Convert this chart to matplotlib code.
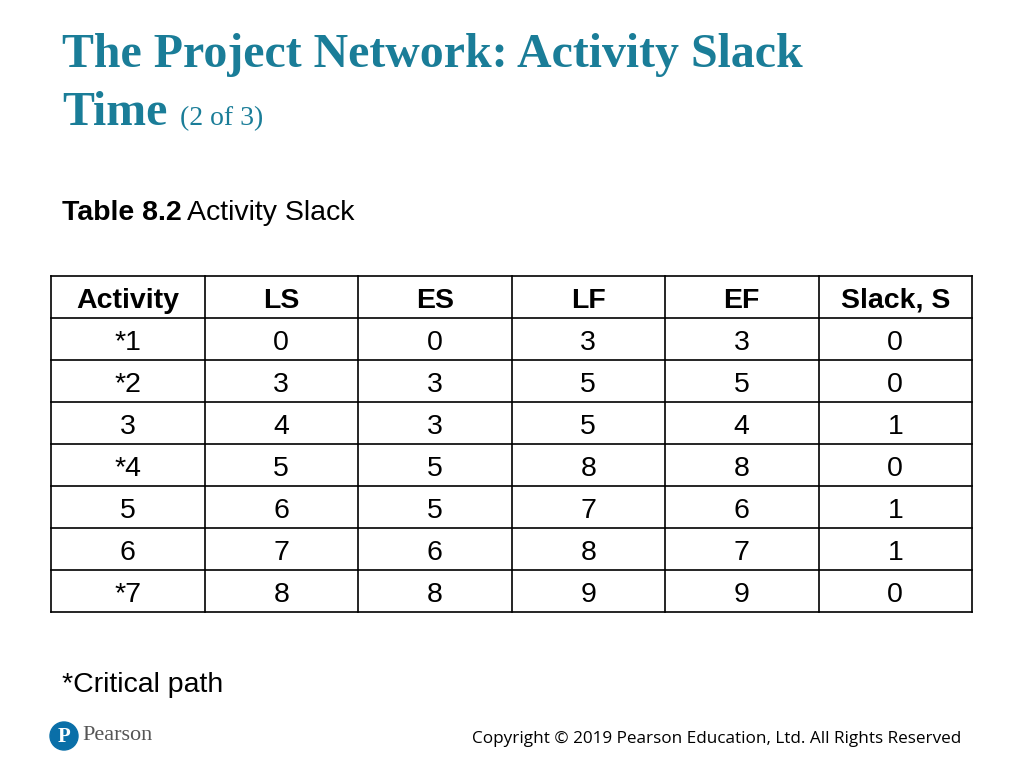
import matplotlib
matplotlib.use("Agg")
import matplotlib.pyplot as plt
from matplotlib.patches import Circle

headers = ["Activity", "LS", "ES", "LF", "EF", "Slack, S"]
activity = ["*1", "*2", "3", "*4", "5", "6", "*7"]
ls = [0, 3, 4, 5, 6, 7, 8]
es = [0, 3, 3, 5, 5, 6, 8]
lf = [3, 5, 5, 8, 7, 8, 9]
ef = [3, 5, 4, 8, 6, 7, 9]
slack = [0, 0, 1, 0, 1, 1, 0]

fig = plt.figure(figsize=(10.24, 7.68), dpi=100)
ax = fig.add_axes([0, 0, 1, 1])
ax.set_xlim(0, 1024); ax.set_ylim(768, 0); ax.axis("off")

teal = "#1a7d98"
fs = 20.5
ax.text(62, 55, "The Project Network: Activity Slack", family="Liberation Serif",
        fontweight="bold", fontsize=34.5, color=teal, va="center")
ax.text(62, 113, "Time", family="Liberation Serif", fontweight="bold", fontsize=34.5,
        color=teal, va="center")
ax.text(180, 119, "(2 of 3)", family="Liberation Serif", fontsize=20, color=teal, va="center")

ax.text(62, 210, "Table 8.2", family="Liberation Sans", fontweight="bold", fontsize=fs, va="center_baseline")
ax.text(187, 210, "Activity Slack", family="Liberation Sans", fontsize=fs, va="center_baseline")

left, right, top, rh = 51, 972, 276, 42
cw = (right - left) / len(headers)
nrows = len(activity) + 1
bottom = top + rh * nrows
for i in range(nrows + 1):
    ax.plot([left, right], [top + i * rh] * 2, color="black", lw=1.2)
for j in range(len(headers) + 1):
    ax.plot([left + j * cw] * 2, [top, bottom], color="black", lw=1.2)
for j, h in enumerate(headers):
    ax.text(left + (j + .5) * cw, top + rh / 2 + 1, h, family="Liberation Sans", fontweight="bold",
            fontsize=fs, ha="center", va="center_baseline")
cols = [activity, ls, es, lf, ef, slack]
for j, col in enumerate(cols):
    for i, v in enumerate(col):
        ax.text(left + (j + .5) * cw, top + (i + 1.5) * rh + 1, str(v), family="Liberation Sans",
                fontsize=fs, ha="center", va="center_baseline")

ax.text(62, 682, "*Critical path", family="Liberation Sans", fontsize=fs, va="center_baseline")

ax.add_patch(Circle((64, 736), 14, color="#0a6fa8"))
ax.text(64, 737, "P", family="Liberation Serif", fontweight="bold", fontsize=15, color="white",
        ha="center", va="center")
ax.text(82, 736, "Pearson", family="Liberation Serif", fontsize=16, color="#555555", va="center")
ax.text(961, 739, "Copyright © 2019 Pearson Education, Ltd. All Rights Reserved",
        family="Open Sans", fontsize=12.3, ha="right", va="center")

fig.savefig("out.png", dpi=100)
